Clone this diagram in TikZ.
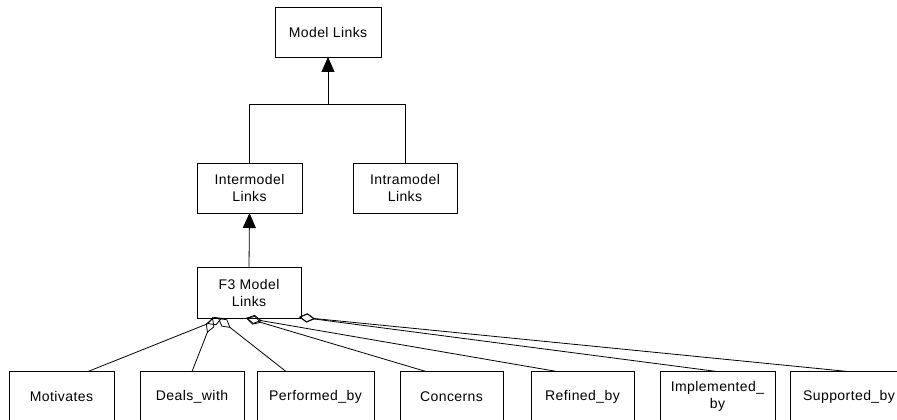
\documentclass[tikz,border=0pt]{standalone}
\usepackage{fontspec}
\setmainfont[LetterSpace=3]{Liberation Sans}
\usetikzlibrary{arrows.meta}
\begin{document}
\begin{tikzpicture}[x=1pt,y=-1pt,
  box/.style={draw, line width=0.8pt, fill=white, inner sep=0pt, outer sep=0pt,
    align=center, minimum height=50pt, font=\fontsize{14}{17}\selectfont},
  link/.style={line width=0.8pt},
  isa/.style={link, -{Triangle[length=15pt,width=13pt]}},
  agg/.style={link, -{Diamond[open,length=16pt,width=9pt]}}]
\clip (0,0) rectangle (897,420);

% hierarchy of link kinds
\node[box, minimum width=106pt] (ml) at (328,32) {Model Links};
\node[box, minimum width=105pt] (inter) at (249.5,188) {Intermodel\\Links};
\node[box, minimum width=104pt] (intra) at (405,188) {Intramodel\\Links};
\node[box, minimum width=104pt, minimum height=51pt] (f3) at (249,292.5) {F3 Model\\Links};

% concrete F3 link types
\begin{scope}[every node/.append style={minimum height=51pt}]
\node[box, minimum width=105pt] (mot)  at (61.5,396.5)  {Motivates};
\node[box, minimum width=104pt] (deal) at (192,396.5)   {Deals\_with};
\node[box, minimum width=117pt] (perf) at (315.5,396.5) {Performed\_by};
\node[box, minimum width=103pt] (conc) at (451.5,396.5) {Concerns};
\node[box, minimum width=103pt] (ref)  at (582.5,396.5) {Refined\_by};
\node[box, minimum width=115pt] (impl) at (717.5,396.5) {Implemented\_\\by};
\node[box, minimum width=118pt] (sup)  at (849,396.5)   {Supported\_by};
\end{scope}

% generalisation: Intermodel / Intramodel -> Model Links
\coordinate (fork) at (ml.south |- 0,104);
\draw[link] (inter.north) |- (intra.north |- fork) -- (intra.north);
\draw[isa] (fork) -- (ml.south);

% F3 Model Links -> Intermodel Links
\draw[isa] (f3.north) -- (inter.south);

% aggregation of the link types into F3 Model Links
\draw[agg] ([xshift=26.5pt]mot.north)  -- ([xshift=-27pt]f3.south);
\draw[agg] (deal.north)                -- ([xshift=-36pt]f3.south);
\draw[agg] ([xshift=-29.5pt]perf.north) -- ([xshift=-31pt]f3.south);
\draw[agg] ([xshift=-25.5pt]conc.north) -- ([xshift=-3pt]f3.south);
\draw[agg] ([xshift=-25.5pt]ref.north)  -- ([xshift=-3pt]f3.south);
\draw[agg] ([xshift=-0.5pt]impl.north)  -- ([xshift=50pt,yshift=1pt]f3.south);
\draw[agg] ([xshift=-1pt]sup.north)     -- ([xshift=50pt,yshift=1pt]f3.south);
\end{tikzpicture}
\end{document}
